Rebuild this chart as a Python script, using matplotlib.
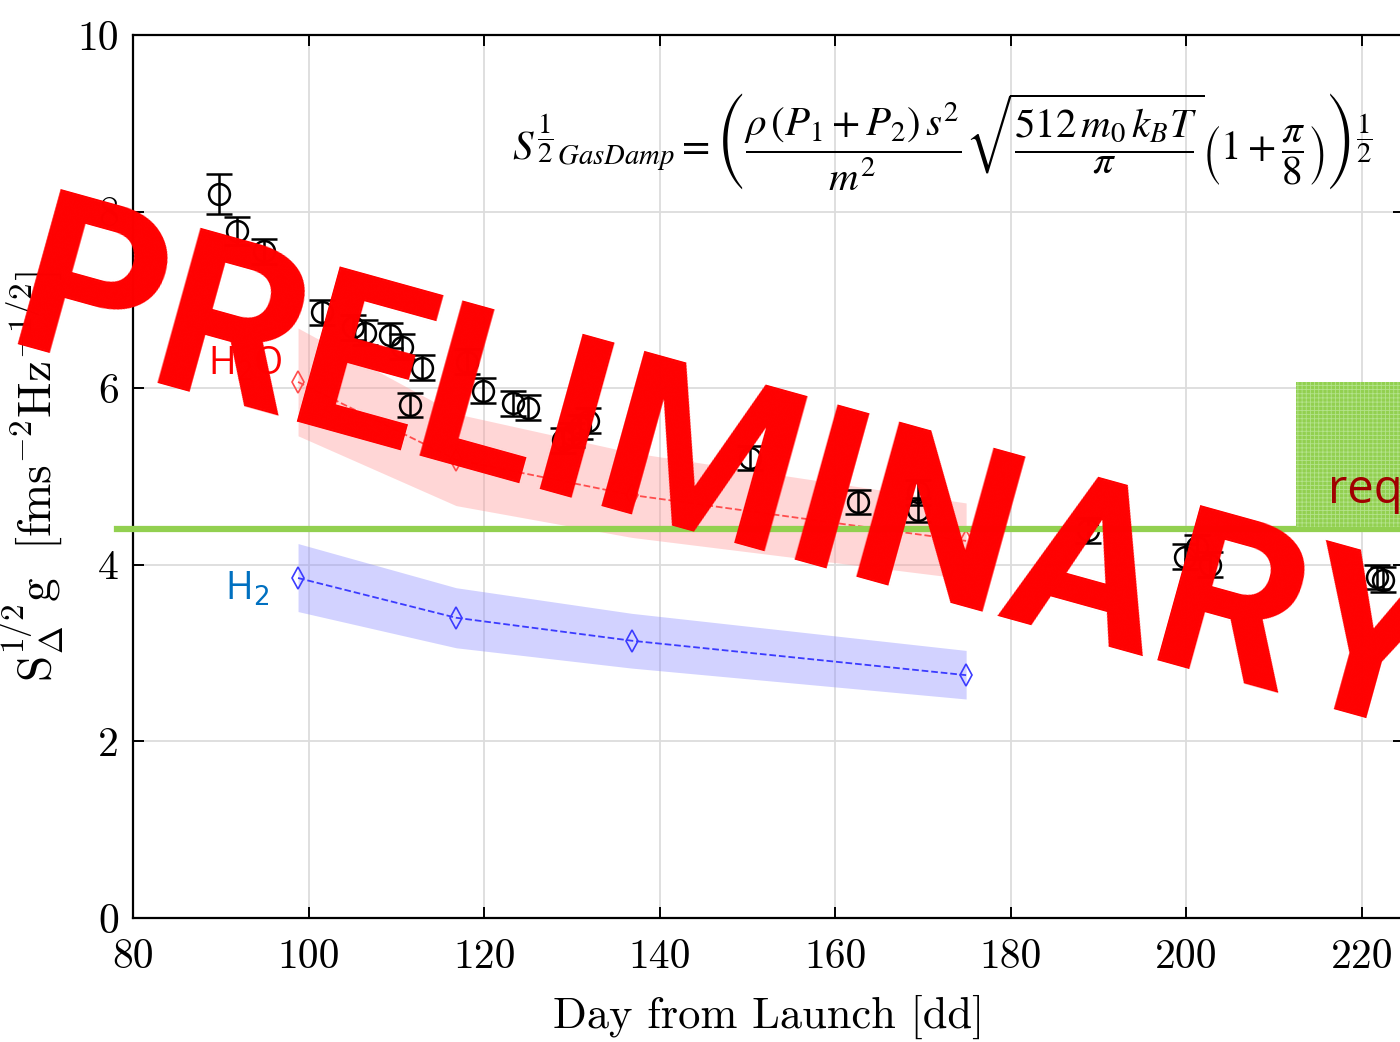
import matplotlib
matplotlib.use("Agg")
import matplotlib.pyplot as plt
from matplotlib.patches import Rectangle

# Measured acceleration noise (ASD at ~1 mHz) vs mission day
days_obs = [89.8, 91.8, 94.9, 101.5, 105.1, 106.4, 109.3, 110.6, 111.5, 112.9,
            118.0, 119.9, 123.3, 125.0, 129.0, 130.0, 130.9, 131.8, 150.3, 162.6,
            169.4, 169.4, 188.8, 199.8, 201.2, 202.7, 221.7, 222.4]
asd_obs = [8.20, 7.78, 7.55, 6.86, 6.69, 6.63, 6.60, 6.47, 5.81, 6.23,
           6.30, 5.97, 5.83, 5.78, 5.41, 5.47, 5.56, 5.63, 5.21, 4.71,
           4.82, 4.62, 4.39, 4.09, 4.20, 4.00, 3.86, 3.83]
err_obs = [0.23, 0.16, 0.14, 0.14, 0.14, 0.14, 0.14, 0.14, 0.14, 0.14,
           0.14, 0.14, 0.14, 0.14, 0.14, 0.14, 0.14, 0.14, 0.14, 0.14,
           0.14, 0.14, 0.14, 0.14, 0.14, 0.14, 0.14, 0.14]

# Gas damping model for the two outgassing species
days_model = [98.8, 116.8, 136.8, 174.9]
h2o_model = [6.07, 5.19, 4.79, 4.27]
h2o_low = [5.46, 4.67, 4.31, 3.84]
h2o_high = [6.68, 5.71, 5.27, 4.70]
h2_model = [3.85, 3.40, 3.14, 2.75]
h2_low = [3.47, 3.06, 2.83, 2.48]
h2_high = [4.24, 3.74, 3.45, 3.03]

req_level = 4.40
xticks = [80, 100, 120, 140, 160, 180, 200, 220]
yticks = [0, 2, 4, 6, 8, 10]

fig = plt.figure(figsize=(14, 10.42), dpi=100)
ax = fig.add_axes([0.095, 0.119, 0.908, 0.8475])

ax.fill_between(days_model, h2o_low, h2o_high, color="#ff9a9a", alpha=0.4, lw=0)
ax.fill_between(days_model, h2_low, h2_high, color="#8f8fff", alpha=0.4, lw=0)
ax.plot(days_model, h2o_model, "--", color="#ff4d4d", lw=1.3,
        marker="d", ms=11, mfc="none", mew=1.2)
ax.plot(days_model, h2_model, "--", color="#3b3bff", lw=1.3,
        marker="d", ms=11, mfc="none", mew=1.2)

ax.errorbar(days_obs, asd_obs, yerr=err_obs, fmt="o", color="black",
            ms=15, mfc="none", mew=1.8, elinewidth=1.8, capsize=9.5, capthick=1.8)

ax.set_xlim(80, 224.8)
ax.set_ylim(0, 10)
ax.set_xticks(xticks)
ax.set_yticks(yticks)
ax.grid(True, color="#dcdcdc", lw=1.3)
ax.set_axisbelow(True)
ax.tick_params(direction="in", length=8, width=1.4, top=True, right=True, labelsize=30)
ax.tick_params(axis="x", pad=15)
ax.tick_params(axis="y", pad=10)
for lab in ax.get_xticklabels() + ax.get_yticklabels():
    lab.set_fontfamily("cmr10")
for sp in ax.spines.values():
    sp.set_linewidth(1.6)

ax.set_xlabel("Day from Launch [dd]", fontfamily="cmr10", fontsize=32, labelpad=13)
ax.set_ylabel(r"$\mathrm{S}_{\Delta}^{1/2}\mathrm{g}\ \ [\mathrm{fms}^{-2}\mathrm{Hz}^{-1/2}]$",
              math_fontfamily="cm", fontsize=34, labelpad=8)

# requirement level and its label box
ax.plot([78.2, 224.8], [req_level, req_level], color="#92d050", lw=4.5, clip_on=False, zorder=5)
plt.rcParams["hatch.linewidth"] = 0.6
ax.add_patch(Rectangle((212.5, 4.43), 14, 1.64, facecolor="#92d050",
                       edgecolor="#b4e38c", hatch="++++", lw=0, zorder=5, clip_on=False))
ax.text(216.1, 4.7, "requirement", color="#a00000", fontsize=34,
        fontfamily="Open Sans", zorder=6, clip_on=False)

ax.text(88.5, 6.15, r"H$_2$O", color="red", fontsize=27, fontfamily="Open Sans", zorder=4)
ax.text(90.5, 3.6, r"H$_2$", color="#0070c0", fontsize=27, fontfamily="Open Sans", zorder=4)

formula = (r"$S^{\dfrac{1}{2}}{}_{GasDamp} = \left(\dfrac{\rho\,\left(P_1+P_2\right)\,s^2}{m^2}"
           r"\sqrt{\dfrac{512\,m_0\,k_B T}{\pi}}\left(1+\dfrac{\pi}{8}\right)\right)^{\dfrac{1}{2}}$")
ax.text(123.2, 8.78, formula, math_fontfamily="stix", fontsize=29.5, va="center", ha="left")

fig.text(0.002, 0.67, "PRELIMINARY", rotation=-15.5, rotation_mode="anchor",
         color="red", fontsize=163, fontweight="bold", fontfamily="Roboto",
         ha="left", va="baseline", zorder=10)

fig.savefig("out.png", dpi=100)
